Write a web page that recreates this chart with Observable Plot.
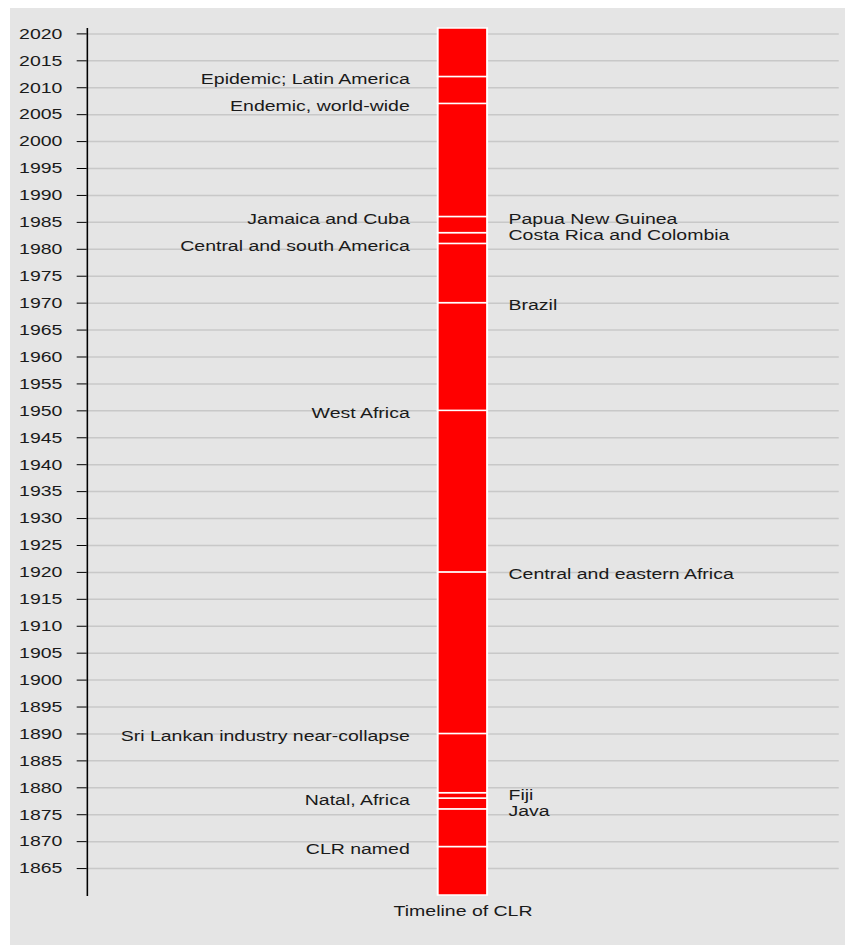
<!DOCTYPE html>
<html>
<head>
<meta charset="utf-8">
<script src="https://cdn.jsdelivr.net/npm/d3@7"></script>
<script src="https://cdn.jsdelivr.net/npm/@observablehq/plot@0.6"></script>
<style>
  html, body { margin: 0; padding: 0; background: #fff; }
  #wrap { position: absolute; left: 10px; top: 8px; width: 835px; height: 937px; background: #e5e5e5; overflow: hidden; }
</style>
</head>
<body>
<div id="wrap"></div>
<script>
// ---- data ----
const category = "Timeline of CLR";
const startYear = 1860;
const endYear = 2021;
const leftYears = [2012, 2007, 1986, 1981, 1950, 1890, 1878, 1869];
const leftLabels = ["Epidemic; Latin America", "Endemic, world-wide", "Jamaica and Cuba", "Central and south America", "West Africa", "Sri Lankan industry near-collapse", "Natal, Africa", "CLR named"];
const rightYears = [1986, 1983, 1970, 1920, 1879, 1876];
const rightLabels = ["Papua New Guinea", "Costa Rica and Colombia", "Brazil", "Central and eastern Africa", "Fiji", "Java"];
const yearTicks = [1865, 1870, 1875, 1880, 1885, 1890, 1895, 1900, 1905, 1910, 1915, 1920, 1925, 1930, 1935, 1940, 1945, 1950, 1955, 1960, 1965, 1970, 1975, 1980, 1985, 1990, 1995, 2000, 2005, 2010, 2015, 2020];

// ---- derived tables ----
const bounds = Array.from(new Set([startYear, ...leftYears, ...rightYears, endYear])).sort((a, b) => a - b);
const segments = bounds.slice(0, -1).map((y, i) => ({cat: category, y1: y, y2: bounds[i + 1]}));
const leftData = leftYears.map((y, i) => ({cat: category, year: y, label: leftLabels[i]}));
const rightData = rightYears.map((y, i) => ({cat: category, year: y, label: rightLabels[i]}));

const stretch = 1.3;
const chart = Plot.plot({
  width: 642,
  height: 937,
  marginTop: 20,
  marginBottom: 50,
  marginLeft: 59,
  marginRight: 4.5,
  style: {background: "transparent", font: "15px 'Liberation Sans', Arial, sans-serif", color: "#1a1a1a"},
  x: {domain: [category], padding: 0.878, label: null},
  y: {domain: [startYear, endYear], label: null},
  marks: [
    Plot.gridY(yearTicks, {stroke: "#c8c8c8", strokeOpacity: 1, strokeWidth: 1.5}),
    Plot.barY(segments, {x: "cat", y1: "y1", y2: "y2", fill: "#ff0000", stroke: "#ffffff", strokeWidth: 1.5}),
    Plot.frame({anchor: "left", stroke: "#000", strokeWidth: 1.2}),
    Plot.axisY({ticks: yearTicks, tickFormat: d => String(d), tickSize: 7.7, tickPadding: 11.5, stroke: "#000", fill: "#1a1a1a", label: null}),
    Plot.axisX({tickSize: 0, tickPadding: 10, fill: "#1a1a1a", label: null}),
    Plot.text(leftData, {x: "cat", y: "year", text: "label", textAnchor: "end", dx: -41, dy: 2, fill: "#1a1a1a"}),
    Plot.text(rightData, {x: "cat", y: "year", text: "label", textAnchor: "start", dx: 35, dy: 2, fill: "#1a1a1a"})
  ]
});
chart.style.transform = `scaleX(${stretch})`;
chart.style.transformOrigin = "0 0";
chart.style.overflow = "visible";
document.getElementById("wrap").appendChild(chart);
</script>
</body>
</html>
